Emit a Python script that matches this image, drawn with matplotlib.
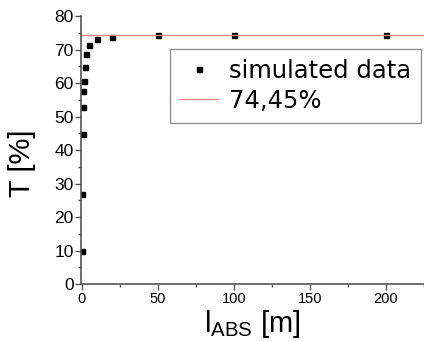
import matplotlib
matplotlib.use("Agg")
import matplotlib.pyplot as plt
from matplotlib.ticker import MultipleLocator

# absorption length [m] vs transmission T [%]
l_abs = [0.1, 0.3, 0.5, 0.7, 1, 1.5, 2, 3, 5, 10, 20, 50, 100, 200]
trans = [10.0, 26.8, 44.7, 52.9, 57.6, 60.6, 64.8, 68.6, 71.4, 73.0, 73.7, 74.2, 74.4, 74.45]
T_LIMIT = 74.45
LIMIT_LABEL = "74,45%"
DATA_LABEL = "simulated data"

fig = plt.figure(figsize=(4.24, 3.41), dpi=100)
ax = fig.add_axes([0.19, 0.167, 0.81, 0.786])

ax.plot(l_abs, trans, ls="none", marker="s", ms=3.6, color="black", label=DATA_LABEL)
ax.axhline(T_LIMIT, color="#ff8c8c", lw=1.0, label=LIMIT_LABEL)

ax.set_xlim(-0.8, 225)
ax.set_ylim(0, 80)
ax.xaxis.set_major_locator(MultipleLocator(50))
ax.xaxis.set_minor_locator(MultipleLocator(25))
ax.yaxis.set_major_locator(MultipleLocator(10))
ax.yaxis.set_minor_locator(MultipleLocator(5))
for s in ("top", "right"):
    ax.spines[s].set_visible(False)
for s in ("left", "bottom"):
    ax.spines[s].set_color("#555555")
    ax.spines[s].set_linewidth(1.2)
ax.tick_params(which="major", direction="out", length=4, width=1, colors="#555555",
               labelcolor="black")
ax.tick_params(which="minor", direction="out", length=2.5, width=1, colors="#555555")
ax.tick_params(axis="x", labelsize=10.5, pad=2)
ax.tick_params(axis="y", labelsize=12.5, pad=1)
for lab in ax.get_xticklabels() + ax.get_yticklabels():
    lab.set_family("Liberation Sans")

ax.set_ylabel("T [%]", fontsize=21, family="Liberation Sans", labelpad=13, y=0.45)
ax.set_xlabel(r"l$_{\mathregular{ABS}}$ [m]", fontsize=21, family="Liberation Sans",
              labelpad=1)

leg = ax.legend(loc="upper right", bbox_to_anchor=(0.993, 0.856),
                bbox_transform=fig.transFigure, prop={"family": "DejaVu Sans", "size": 17.5},
                frameon=True, fancybox=False, edgecolor="#777777", handlelength=1.6,
                borderpad=0.4, labelspacing=0.25, handletextpad=0.45, borderaxespad=0)
leg.get_frame().set_linewidth(1.0)

fig.savefig("out.png", dpi=100)
